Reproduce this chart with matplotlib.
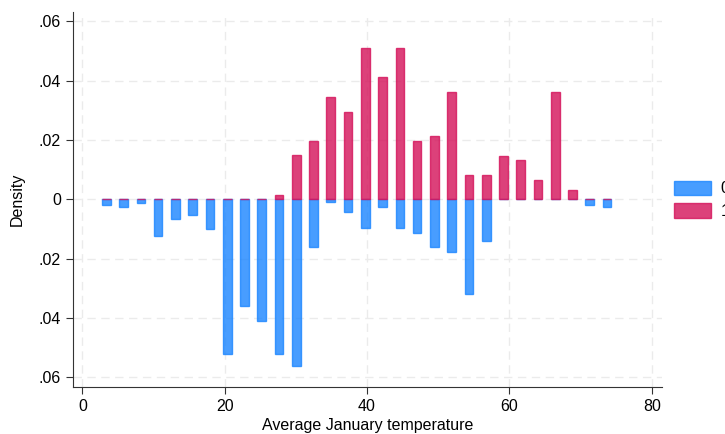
import matplotlib
matplotlib.use("Agg")
import matplotlib.pyplot as plt
import numpy as np

plt.rcParams['font.family'] = ['Liberation Sans', 'DejaVu Sans']

# histogram bins (Average January temperature)
first_center = 3.37
bin_width = 2.426
n_bins = 30

# density, group 0 (drawn downward) and group 1 (drawn upward)
dens0 = [0.0018, 0.0025, 0.0011, 0.0122, 0.0065, 0.0052, 0.0099, 0.0520, 0.0359, 0.0409,
         0.0520, 0.0561, 0.0160, 0.0008, 0.0042, 0.0096, 0.0025, 0.0096, 0.0112, 0.0160,
         0.0176, 0.0318, 0.0140, 0.0, 0.0, 0.0, 0.0, 0.0, 0.0018, 0.0025]
dens1 = [0.0, 0.0, 0.0, 0.0, 0.0, 0.0, 0.0, 0.0, 0.0, 0.0,
         0.0015, 0.0148, 0.0196, 0.0344, 0.0294, 0.0509, 0.0411, 0.0509, 0.0196, 0.0212,
         0.0361, 0.0082, 0.0082, 0.0147, 0.0132, 0.0064, 0.0361, 0.0031, 0.0, 0.0]

yticks = [-0.06, -0.04, -0.02, 0, 0.02, 0.04, 0.06]
ytick_labels = ['.06', '.04', '.02', '0', '.02', '.04', '.06']
xticks = [0, 20, 40, 60, 80]

blue = '#1A85FF'
red = '#D41159'

centers = first_center + bin_width * np.arange(n_bins)

fig = plt.figure(figsize=(7.25, 4.34), dpi=100)
ax = fig.add_axes([0.1003, 0.1076, 0.8124, 0.8648])

ax.bar(centers, -np.array(dens0), width=bin_width / 2, color=blue, alpha=0.8,
       edgecolor=blue, linewidth=1, label='0', zorder=3)
ax.bar(centers, dens1, width=bin_width / 2, color=red, alpha=0.8,
       edgecolor=red, linewidth=1, label='1', zorder=3)

ax.set_xlim(-1.35, 81.4)
ax.set_ylim(-0.0634, 0.0632)
ax.set_xticks(xticks)
ax.set_yticks(yticks)
ax.set_yticklabels(ytick_labels)
ax.tick_params(labelsize=11.5, length=5, color='#333333')

ax.grid(True, linestyle=(0, (6, 4)), color='#EBEBEB', linewidth=1, zorder=0)
ax.set_axisbelow(True)
for s in ['top', 'right']:
    ax.spines[s].set_visible(False)
for s in ['left', 'bottom']:
    ax.spines[s].set_color('#333333')

ax.set_xlabel('Average January temperature', fontsize=11.5, labelpad=2.5)
ax.set_ylabel('Density', fontsize=11.5, labelpad=10)

ax.legend(loc='center left', bbox_to_anchor=(1.021, 0.5), frameon=False,
          fontsize=11.5, handlelength=2.3, handleheight=1.06, handletextpad=0.6,
          labelspacing=0.4, borderpad=0, borderaxespad=0)

fig.savefig('out.png', dpi=100)
